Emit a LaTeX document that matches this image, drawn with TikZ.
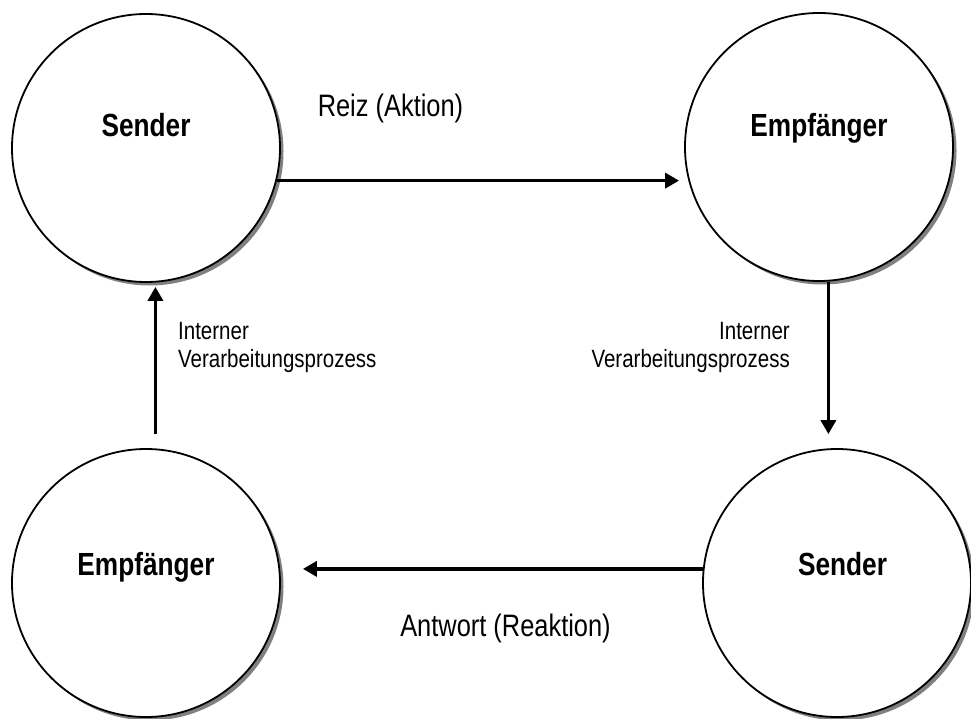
\documentclass[tikz,border=0pt]{standalone}
\usepackage{fontspec}
\setmainfont{Liberation Sans}
\usetikzlibrary{arrows.meta,shadows}

% narrow sans lettering
\newcommand{\narrowtext}[1]{\scalebox{0.82}[1]{#1}}
\newcommand{\twolines}[3]{\narrowtext{\begin{tabular}[t]{@{}#1@{}}#2\\#3\end{tabular}}}

\begin{document}
\begin{tikzpicture}[x=1bp,y=-1bp,
  party/.style={circle, draw=black, line width=1.8bp, fill=white,
    minimum size=268bp, inner sep=0pt,
    drop shadow={shadow xshift=3.5bp, shadow yshift=-3.5bp, fill=black!50, opacity=1}},
  title/.style={font=\fontsize{32bp}{36bp}\selectfont\bfseries, inner sep=0pt, anchor=base},
  flow/.style={line width=3.5bp, -{Triangle[length=14bp,width=15bp]}},
  msg/.style={font=\fontsize{31bp}{36bp}\selectfont, inner sep=0pt, anchor=base},
  note/.style={font=\fontsize{25bp}{28bp}\selectfont, inner sep=0pt}]

  \useasboundingbox (0,0) rectangle (971,719);

  % the four parties
  \node[party] (tl) at (146,148) {};
  \node[party] (tr) at (819,147) {};
  \node[party] (bl) at (146,583) {};
  \node[party] (br) at (837,583) {};

  % their names, a little above the centre
  \node[title, yshift=11bp] (tlname) at (tl) {\narrowtext{Sender}};
  \node[title, yshift=10bp] (trname) at (tr) {\narrowtext{Empfänger}};
  \node[title, yshift=8bp]  (blname) at (bl) {\narrowtext{Empfänger}};
  \node[title, yshift=8bp, xshift=5.5bp] (brname) at (br) {\narrowtext{Sender}};

  % message flow around the loop
  \draw[flow, shorten >=5bp]  (tl.-14.7) -- (tl.-14.7 -| tr.west);
  \draw[flow, shorten >=14bp] (tr.-86.1) -- (tr.-86.1 |- br.north);
  \draw[flow, shorten >=22bp] (br.174.4) -- (br.174.4 -| bl.east);
  \draw[flow, shorten <=14bp, shorten >=4bp] (bl.86.2) -- (bl.86.2 |- tl.south);

  % labels
  \node[msg] (reiz) at (390.5,117) {\narrowtext{Reiz (Aktion)}};
  \node[msg] (antwort) at (505.5,636) {\narrowtext{Antwort (Reaktion)}};
  \node[note, anchor=base west] (procl) at (178,339)
    {\twolines{l}{Interner}{Verarbeitungsprozess}};
  \node[note, anchor=base east] (procr) at (790,339)
    {\twolines{r}{Interner}{Verarbeitungsprozess}};
\end{tikzpicture}
\end{document}
